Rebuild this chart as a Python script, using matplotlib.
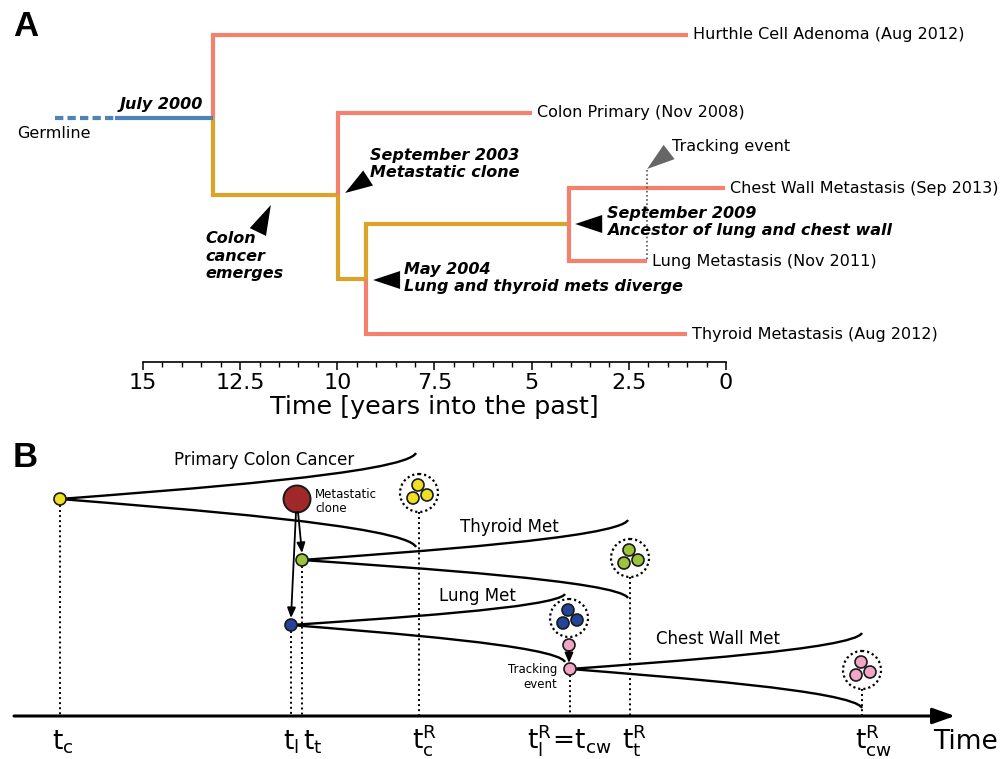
import numpy as np
import matplotlib
matplotlib.use('Agg')
import matplotlib.pyplot as plt
from matplotlib.path import Path
from matplotlib.patches import PathPatch, Circle, Polygon

plt.rcParams['font.family'] = 'DejaVu Sans'
plt.rcParams['mathtext.default'] = 'regular'

# branch colours
PINK = '#F4806E'
GOLD = '#DBA328'
BLUE = '#4C84B8'

# ---------------- panel A : dated tree, years into the past ----------------
tip_keys = ['hurthle', 'colon', 'chest', 'lung', 'thyroid']
tip_labels = ['Hurthle Cell Adenoma (Aug 2012)', 'Colon Primary (Nov 2008)',
              'Chest Wall Metastasis (Sep 2013)', 'Lung Metastasis (Nov 2011)',
              'Thyroid Metastasis (Aug 2012)']
tip_years = [0.98, 4.99, 0.03, 2.03, 1.00]
tip_rows = [35, 113, 188, 261, 334]

node_keys = ['root', 'met', 'diverge', 'ancestor']
node_years = [13.20, 9.98, 9.26, 4.04]
node_rows = [118, 195, 279, 224]

edge_parent = ['root', 'root', 'met', 'met', 'diverge', 'diverge', 'ancestor', 'ancestor']
edge_child = ['hurthle', 'met', 'colon', 'diverge', 'ancestor', 'thyroid', 'chest', 'lung']
edge_colour = [PINK, GOLD, PINK, GOLD, GOLD, PINK, PINK, PINK]

germline_years = [17.26, 15.72, 13.20]
germline_row = 118
tracking_year = 2.03
tracking_rows = [170, 261]

event_texts = ['July 2000', 'September 2003\nMetastatic clone', 'Colon\ncancer\nemerges',
               'May 2004\nLung and thyroid mets diverge',
               'September 2009\nAncestor of lung and chest wall']
event_years = [15.59, 9.16, 13.40, 8.28, 3.06]
event_rows = [104, 164, 256, 278, 222]

# pointer wedges: tip (year, row) and vector tip->base in pixels
pointer_years = [11.71, 9.80, 9.08, 3.88, 2.03]
pointer_rows = [205, 193, 280, 224, 169]
pointer_dx = [-13, 23, 27, 27, 22]
pointer_dy = [27, -15, 0, 0, -17]
pointer_colour = ['k', 'k', 'k', 'k', '#666666']

axis_ticks = [15, 12.5, 10, 7.5, 5, 2.5, 0]
axis_ticklabels = ['15', '12.5', '10', '7.5', '5', '2.5', '0']
axis_minor = [0.5, 1, 1.5, 2, 3, 3.5, 4, 4.5, 5.5, 6, 6.5, 7, 8, 8.5, 9, 9.5,
              10.5, 11, 11.5, 12, 13, 13.5, 14, 14.5]

# ---------------- panel B : schematic of clone histories ----------------
event_x = [60, 291, 302, 419, 570, 630, 862]
event_top = [505, 631, 566, 512, 675, 577, 689]
event_labels = [r'$t_c$', r'$t_l$', r'$t_t$', r'$t_c^R$', r'$t_l^R\!=\!t_{cw}$', r'$t_t^R$', r'$t_{cw}^R$']
event_label_x = [52, 283, 303, 412, 570, 622, 855]
event_label_ha = ['left', 'left', 'left', 'left', 'center', 'left', 'left']

lineage_labels = ['Primary Colon Cancer', 'Thyroid Met', 'Lung Met', 'Chest Wall Met']
lineage_x0 = [60, 302, 291, 570]
lineage_y0 = [499, 560, 625, 669]
lineage_x1 = [416, 628, 565, 862]
lineage_top = [453, 520, 594, 633]
lineage_bottom = [547, 598, 662, 708]
lineage_colour = ['#EEE022', '#9BC43A', '#23449A', '#F2A6C6']
lineage_label_x = [264, 509, 477, 718]
lineage_label_y = [460, 527, 596, 639]
cluster_x = [419, 630, 569, 862]
cluster_y = [493, 558, 618, 670]
cluster_offsets = [(-1, -8), (-6, 5), (8, 2)]

fig = plt.figure(figsize=(10.02, 7.59), dpi=100)
axb = fig.add_axes([0, 0, 1, 1])
axb.set_xlim(0, 1002)
axb.set_ylim(759, 0)
axb.axis('off')

axa = fig.add_axes([0, 1 - 362 / 759, 1, 362 / 759])
axa.set_xlim(18.679, -7.101)
axa.set_ylim(362, 0)
axa.patch.set_alpha(0)
for s in ['left', 'right', 'top']:
    axa.spines[s].set_visible(False)
axa.spines['bottom'].set_bounds(0, 15)
axa.spines['bottom'].set_linewidth(1.2)
axa.set_yticks([])
axa.set_xticks(axis_ticks)
axa.set_xticklabels(axis_ticklabels)
axa.set_xticks(axis_minor, minor=True)
axa.tick_params(axis='x', which='major', length=6, width=1.1, labelsize=16, pad=2)
axa.tick_params(axis='x', which='minor', length=3.5, width=1.0)
axa.set_xlabel('Time [years into the past]', fontsize=18.3, labelpad=1)
# centre the axis title under the drawn part of the axis (7.5 years)
axa.xaxis.label.set_x((18.679 - 7.5) / (18.679 + 7.101))

pos = dict(zip(tip_keys, zip(tip_years, tip_rows)))
pos.update(dict(zip(node_keys, zip(node_years, node_rows))))

for p, c, col in zip(edge_parent, edge_child, edge_colour):
    px, py = pos[p]
    cx, cy = pos[c]
    axa.plot([px, px, cx], [py, cy, cy], color=col, lw=3,
             solid_joinstyle='miter', solid_capstyle='butt')

axa.plot(germline_years[:2], [germline_row] * 2, color=BLUE, lw=3, ls=(0, (2, 1)))
axa.plot(germline_years[1:], [germline_row] * 2, color=BLUE, lw=3, solid_capstyle='butt')
axa.plot([tracking_year] * 2, tracking_rows, color='#555555', lw=1.2, ls=(0, (1, 1.5)))

for lab, yr, row in zip(tip_labels, tip_years, tip_rows):
    axa.text(yr - 0.13, row, lab, fontsize=11.5, ha='left', va='center')

for txt, yr, row in zip(event_texts, event_years, event_rows):
    axa.text(yr, row, txt, fontsize=11.5, fontweight='bold', style='italic',
             ha='left', va='center', linespacing=1.2)

axa.text(18.24, 133, 'Germline', fontsize=11.5, ha='left', va='center')
axa.text(1.39, 147, 'Tracking event', fontsize=11.5, ha='left', va='center')


def wedge(year, row, dx, dy, colour, half=9):
    tx, ty = axb.transData.inverted().transform(axa.transData.transform((year, row)))
    length = np.hypot(dx, dy)
    nx, ny = -dy / length, dx / length
    bx, by = tx + dx, ty + dy
    axb.add_patch(Polygon([(tx, ty), (bx + nx * half, by + ny * half),
                           (bx - nx * half, by - ny * half)],
                          closed=True, facecolor=colour, edgecolor='none'))


for yr, row, dx, dy, col in zip(pointer_years, pointer_rows, pointer_dx, pointer_dy, pointer_colour):
    wedge(yr, row, dx, dy, col)

fig.text(13 / 1002, 1 - 10 / 759, 'A', fontsize=25, fontweight='bold',
         family='Liberation Sans', ha='left', va='top')
fig.text(13 / 1002, 1 - 441 / 759, 'B', fontsize=25, fontweight='bold',
         family='Liberation Sans', ha='left', va='top')


# ---- panel B drawing ----
def horn(x0, y0, x1, y1):
    L = x1 - x0
    h = y1 - y0
    verts = [(x0, y0), (x0 + 0.33 * L, y0 + 0.2 * h), (x0 + 0.97 * L, y0 + 0.55 * h), (x1, y1)]
    path = Path(verts, [Path.MOVETO, Path.CURVE4, Path.CURVE4, Path.CURVE4])
    axb.add_patch(PathPatch(path, fill=False, lw=1.7, edgecolor='k', zorder=3))


axis_y = 716
axb.annotate('', xy=(955, axis_y), xytext=(14, axis_y),
             arrowprops=dict(arrowstyle='-|>,head_length=0.85,head_width=0.3', lw=2.2,
                             color='k', shrinkA=0, shrinkB=0, mutation_scale=16))
axb.text(933, 749, 'Time', fontsize=19, ha='left', va='baseline')

for x, top, lab, lx, ha in zip(event_x, event_top, event_labels, event_label_x, event_label_ha):
    axb.plot([x, x], [top, axis_y], color='k', lw=1.4, ls=(0, (1, 1.6)), zorder=2)
    axb.text(lx, 749, lab, fontsize=19, ha=ha, va='baseline')

for i in range(len(lineage_labels)):
    horn(lineage_x0[i], lineage_y0[i], lineage_x1[i], lineage_top[i])
    horn(lineage_x0[i], lineage_y0[i], lineage_x1[i], lineage_bottom[i])
    axb.text(lineage_label_x[i], lineage_label_y[i], lineage_labels[i], fontsize=12,
             ha='center', va='center')
    axb.add_patch(Circle((cluster_x[i], cluster_y[i]), 19, fill=False, edgecolor='k',
                         lw=1.6, ls=(0, (1, 1.3)), zorder=4))
    for ox, oy in cluster_offsets:
        axb.add_patch(Circle((cluster_x[i] + ox, cluster_y[i] + oy), 6,
                             facecolor=lineage_colour[i], edgecolor='#1a1a1a', lw=1.2, zorder=5))

# founding nodes
for i in range(len(lineage_labels)):
    axb.add_patch(Circle((lineage_x0[i], lineage_y0[i]), 6, facecolor=lineage_colour[i],
                         edgecolor='#1a1a1a', lw=1.2, zorder=6))
# second pink node above the tracking event
axb.add_patch(Circle((569, 645), 6, facecolor=lineage_colour[3], edgecolor='#1a1a1a',
                     lw=1.2, zorder=6))
# metastatic clone
axb.add_patch(Circle((297, 499), 13.5, facecolor='#A02828', edgecolor='#1a1a1a',
                     lw=1.4, zorder=6))
axb.text(315, 501, 'Metastatic\nclone', fontsize=8.5, ha='left', va='center', linespacing=1.1)
axb.text(557, 677, 'Tracking\nevent', fontsize=8.5, ha='right', va='center', linespacing=1.3)

arrow_kw = dict(arrowstyle='-|>,head_length=0.6,head_width=0.25', lw=1.3, color='k',
                shrinkA=0, shrinkB=0, mutation_scale=10)
axb.annotate('', xy=(302, 553), xytext=(298, 512), arrowprops=arrow_kw, zorder=7)
axb.annotate('', xy=(291, 618), xytext=(296, 512), arrowprops=arrow_kw, zorder=7)
axb.annotate('', xy=(569, 663), xytext=(569, 651), arrowprops=arrow_kw, zorder=7)

fig.savefig('out.png', dpi=100)
